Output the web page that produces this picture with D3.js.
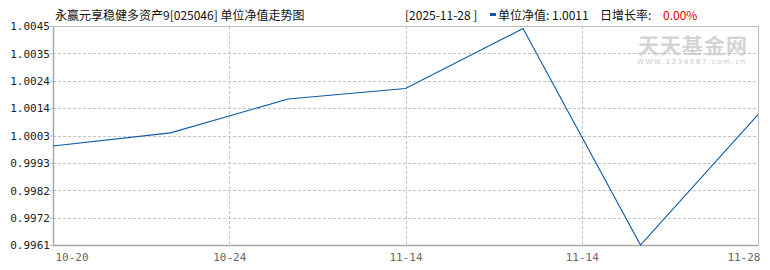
<!DOCTYPE html>
<html><head><meta charset="utf-8">
<script src="https://cdn.jsdelivr.net/npm/d3@7"></script>
<style>body{margin:0;background:#fff}svg{display:block}text{font-family:"Noto Sans CJK SC","Noto Sans",sans-serif}</style>
</head><body><svg id="c" width="770" height="270"></svg>
<script>
const pointIndex = [0, 1, 2, 3, 4, 5, 6];
const navValues = [0.9999, 1.0004, 1.0017, 1.0021, 1.0044, 0.9961, 1.0011];
const yTickLabels = ["0.9961","0.9972","0.9982","0.9993","1.0003","1.0014","1.0024","1.0035","1.0045"];
const xTickPos = [0, 1.5, 3, 4.5, 6];
const xTickLabels = ["10-20","10-24","11-14","11-14","11-28"];
const title = "永赢元享稳健多资产9[025046] 单位净值走势图";
const dateLabel = "[2025-11-28 ]";
const navLabel = "单位净值: 1.0011";
const rateLabel = "日增长率:";
const rateValue = "0.00%";

const svg = d3.select("#c");
const L = 53, R = 758, T = 26, B = 245;
const x = d3.scaleLinear().domain([0, 6]).range([L, R]);
const yMin = 0.9961, yMax = 1.0045;
const y = d3.scaleLinear().domain([yMin, yMax]).range([B, T]);
const yTicks = yTickLabels.map((s, i) => yMin + i * (yMax - yMin) / (yTickLabels.length - 1));

// watermark
svg.append("text").attr("x", 693).attr("y", 53).attr("text-anchor", "middle")
  .attr("font-size", 21).attr("font-weight", "bold").attr("fill", "#d4d4d4").attr("letter-spacing", 1).text("天天基金网");
svg.append("text").attr("x", 692).attr("y", 64).attr("text-anchor", "middle")
  .attr("font-size", 7).attr("fill", "#c8c8c8").attr("letter-spacing", 1.6).style("font-family","DejaVu Sans").text("WWW.1234567.com.cn");

// horizontal grid
svg.append("g").selectAll("line").data(yTicks.slice(1, -1)).join("line")
  .attr("x1", L).attr("x2", R).attr("y1", d => Math.round(y(d)) + 0.5).attr("y2", d => Math.round(y(d)) + 0.5)
  .attr("stroke", "#c4c4c4").attr("stroke-dasharray", "3,2");
// vertical grid
svg.append("g").selectAll("line").data(xTickPos.slice(1, -1)).join("line")
  .attr("y1", T).attr("y2", B).attr("x1", d => Math.round(x(d)) + 0.5).attr("x2", d => Math.round(x(d)) + 0.5)
  .attr("stroke", "#c4c4c4").attr("stroke-dasharray", "3,2");
// frame
svg.append("rect").attr("x", L + 0.5).attr("y", T + 0.5).attr("width", R - L).attr("height", B - T)
  .attr("fill", "none").attr("stroke", "#bcbcbc");
svg.append("line").attr("x1", L + 0.5).attr("x2", L + 0.5).attr("y1", T).attr("y2", B + 1).attr("stroke", "#a8a8a8").attr("stroke-width", 1.5);
svg.append("line").attr("x1", L).attr("x2", R).attr("y1", B + 0.5).attr("y2", B + 0.5).attr("stroke", "#a8a8a8").attr("stroke-width", 1.5);

// y axis labels
const yAxis = d3.axisLeft(y).tickValues(yTicks).tickSize(3).tickFormat((d, i) => yTickLabels[i]);
const gy = svg.append("g").attr("transform", `translate(${L},0)`).call(yAxis);
gy.select(".domain").remove();
gy.selectAll("line").attr("stroke", "#bcbcbc");
gy.selectAll("text").attr("font-size", 12).attr("fill", "#222").attr("dy", "0.35em").attr("x", -3)
  .style("font-family", "DejaVu Sans Mono").style("font-size", "11px");

// x axis labels
const gx = svg.append("g").attr("transform", `translate(0,${B})`)
  .call(d3.axisBottom(x).tickValues(xTickPos).tickSize(0).tickFormat((d, i) => xTickLabels[i]));
gx.select(".domain").remove();
gx.selectAll("text").attr("fill", "#666").style("font-family", "DejaVu Sans Mono").style("font-size", "11px").attr("y", 8)
  .attr("text-anchor", (d, i) => i === 0 ? "start" : (i === xTickPos.length - 1 ? "end" : "middle"))
  .attr("dx", (d, i) => i === 0 ? 2 : (i === xTickPos.length - 1 ? 2 : 0));

// line
svg.append("path").datum(pointIndex)
  .attr("d", d3.line().x(i => x(i)).y(i => y(navValues[i])))
  .attr("fill", "none").attr("stroke", "#0b5aa8").attr("stroke-width", 1.1);

// header
svg.append("text").attr("x", 55).attr("y", 20).attr("font-size", 12).attr("fill", "#111").text(title);
svg.append("text").attr("x", 405).attr("y", 20).attr("font-size", 12).attr("fill", "#111").text(dateLabel);
svg.append("rect").attr("x", 490).attr("y", 13).attr("width", 6).attr("height", 3).attr("fill", "#0b5aa8");
svg.append("text").attr("x", 498).attr("y", 20).attr("font-size", 12).attr("fill", "#111").text(navLabel);
svg.append("text").attr("x", 600).attr("y", 20).attr("font-size", 12).attr("fill", "#111").text(rateLabel);
svg.append("text").attr("x", 663).attr("y", 20).attr("font-size", 12).attr("fill", "#e00000").text(rateValue);
</script></body></html>
